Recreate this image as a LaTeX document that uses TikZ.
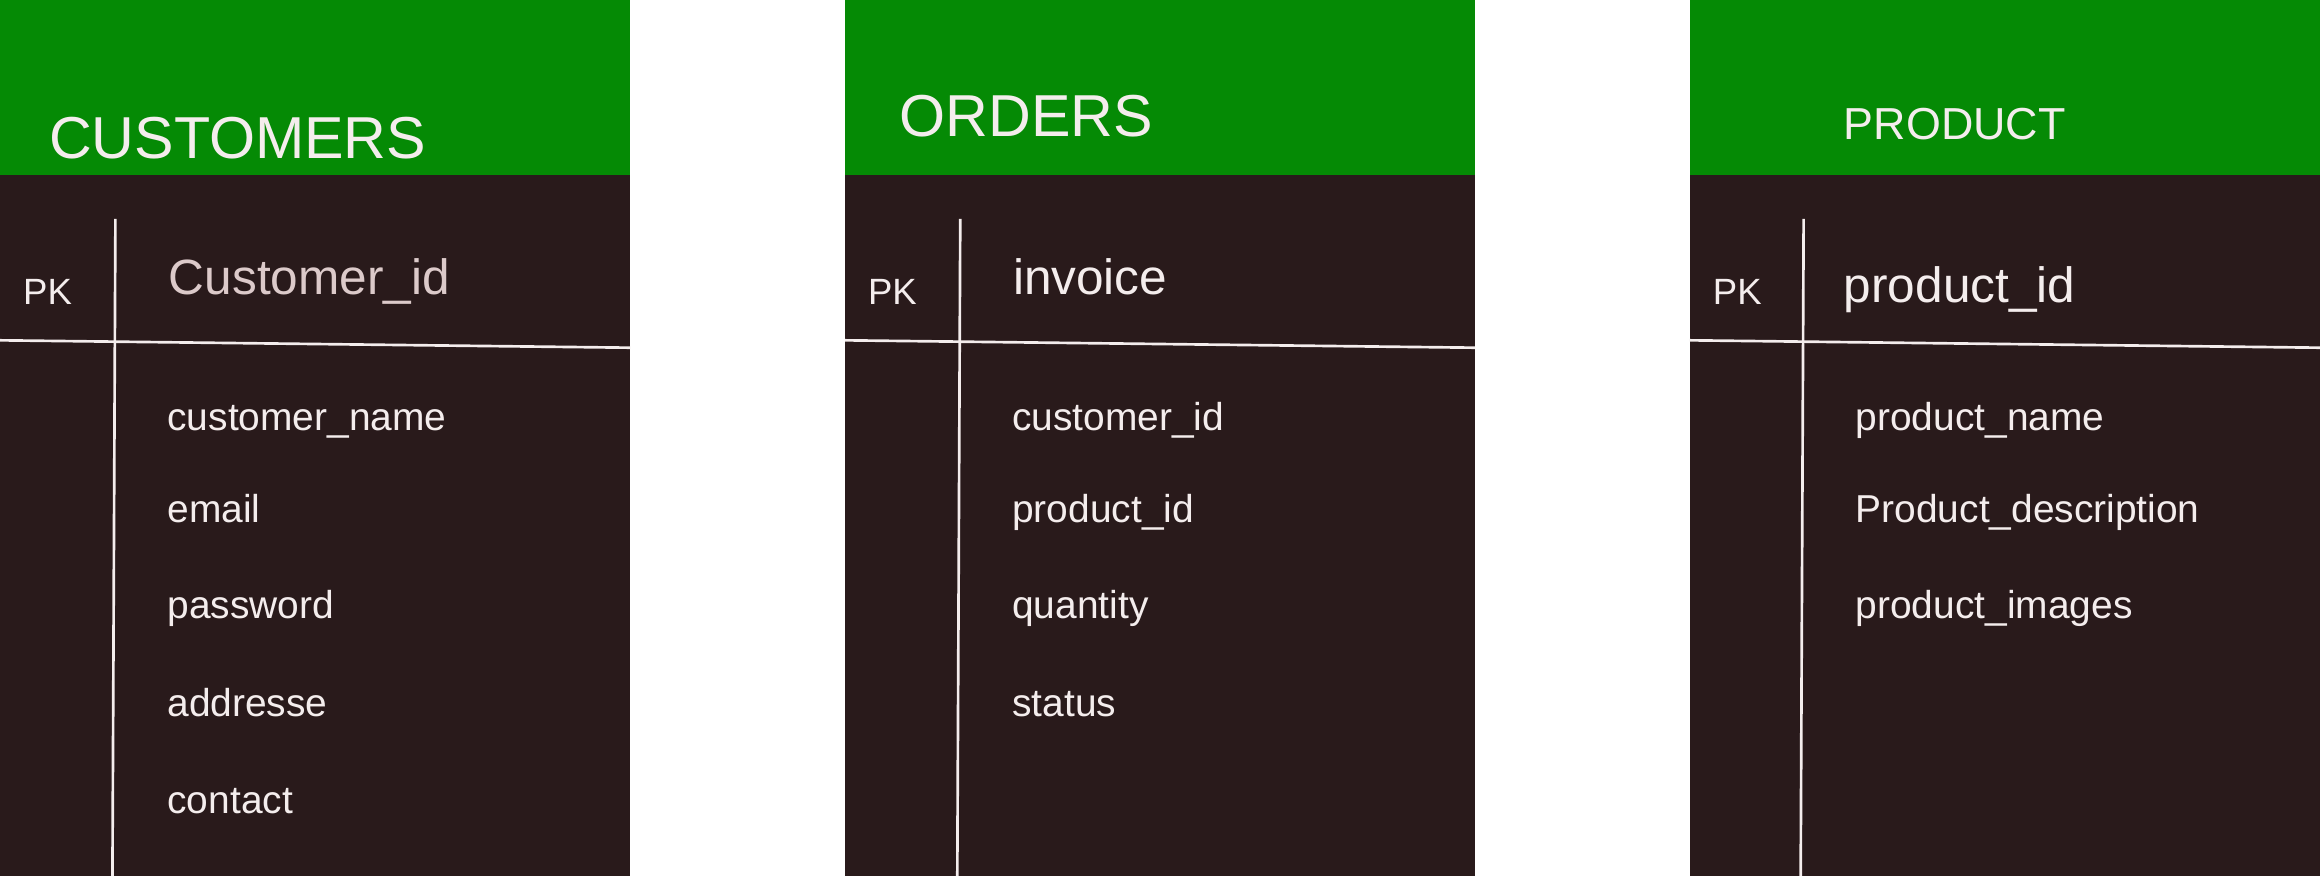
\documentclass[tikz,border=0pt]{standalone}
\usepackage{fontspec}
\setmainfont{Liberation Sans}

\definecolor{headgreen}{HTML}{058A05}
\definecolor{bodybrown}{HTML}{291A1B}
\definecolor{fieldtext}{HTML}{F4EDED}
\definecolor{keytext}{HTML}{DCCACA}

\begin{document}
\begin{tikzpicture}[x=1pt,y=1pt]
        \tikzstyle{every node}=[inner sep=0pt, anchor=base west, text=fieldtext]
        \tikzstyle{tabletitle}=[font=\fontsize{40}{48}\selectfont]
        \tikzstyle{pkmark}=[font=\fontsize{24.7}{30}\selectfont]
        \tikzstyle{pkfield}=[font=\fontsize{33.5}{40}\selectfont]
        \tikzstyle{colfield}=[font=\fontsize{26.3}{32}\selectfont]
        \tikzstyle{sepline}=[draw=fieldtext, line width=1.8pt]

        \useasboundingbox (0,0) rectangle (1568,-592);

        % CUSTOMERS
        \fill[headgreen] (0,0) rectangle (426,-118);
        \fill[bodybrown] (0,-118) rectangle (426,-592);
        \node[tabletitle] (custTitle) at (33,-107) {CUSTOMERS};
        \node[pkmark] (custPK) at (15.5,-206) {PK};
        \node[pkfield, text=keytext] (custKey) at (114,-199) {Customer\_id};
        \node[colfield] (custName) at (113,-291) {customer\_name};
        \node[colfield] (custEmail) at (113,-353) {email};
        \node[colfield] (custPass) at (113,-418) {password};
        \node[colfield] (custAddr) at (113,-484) {addresse};
        \node[colfield] (custContact) at (113,-549.5) {contact};
        \coordinate (custTop) at (78,-148);
        \coordinate (custBottom) at (76,-592);
        \coordinate (custLeft) at (0,-230);
        \coordinate (custRight) at (426,-235);
        \draw[sepline] (custTop) -- (custBottom);
        \draw[sepline] (custLeft) -- (custRight);

        % ORDERS
        \fill[headgreen] (571,0) rectangle (997,-118);
        \fill[bodybrown] (571,-118) rectangle (997,-592);
        \node[tabletitle] (ordTitle) at (608,-92) {ORDERS};
        \node[pkmark] (ordPK) at (586.5,-206) {PK};
        \node[pkfield] (ordKey) at (684.5,-199) {invoice};
        \node[colfield] (ordCustomer) at (684,-291) {customer\_id};
        \node[colfield] (ordProduct) at (684,-353) {product\_id};
        \node[colfield] (ordQty) at (684,-418) {quantity};
        \node[colfield] (ordStatus) at (684,-484) {status};
        \coordinate (ordTop) at (649,-148);
        \coordinate (ordBottom) at (647,-592);
        \coordinate (ordLeft) at (571,-230);
        \coordinate (ordRight) at (997,-235);
        \draw[sepline] (ordTop) -- (ordBottom);
        \draw[sepline] (ordLeft) -- (ordRight);

        % PRODUCT
        \fill[headgreen] (1142,0) rectangle (1568,-118);
        \fill[bodybrown] (1142,-118) rectangle (1568,-592);
        \node[tabletitle, font=\fontsize{30.3}{36}\selectfont] (prodTitle) at (1246,-94) {PRODUCT};
        \node[pkmark] (prodPK) at (1157.5,-206) {PK};
        \node[pkfield] (prodKey) at (1246,-204.5) {product\_id};
        \node[colfield] (prodName) at (1254,-291) {product\_name};
        \node[colfield] (prodDesc) at (1254,-353) {Product\_description};
        \node[colfield] (prodImages) at (1254,-418) {product\_images};
        \coordinate (prodTop) at (1219,-148);
        \coordinate (prodBottom) at (1217,-592);
        \coordinate (prodLeft) at (1142,-230);
        \coordinate (prodRight) at (1568,-235);
        \draw[sepline] (prodTop) -- (prodBottom);
        \draw[sepline] (prodLeft) -- (prodRight);
    \end{tikzpicture}
\end{document}
